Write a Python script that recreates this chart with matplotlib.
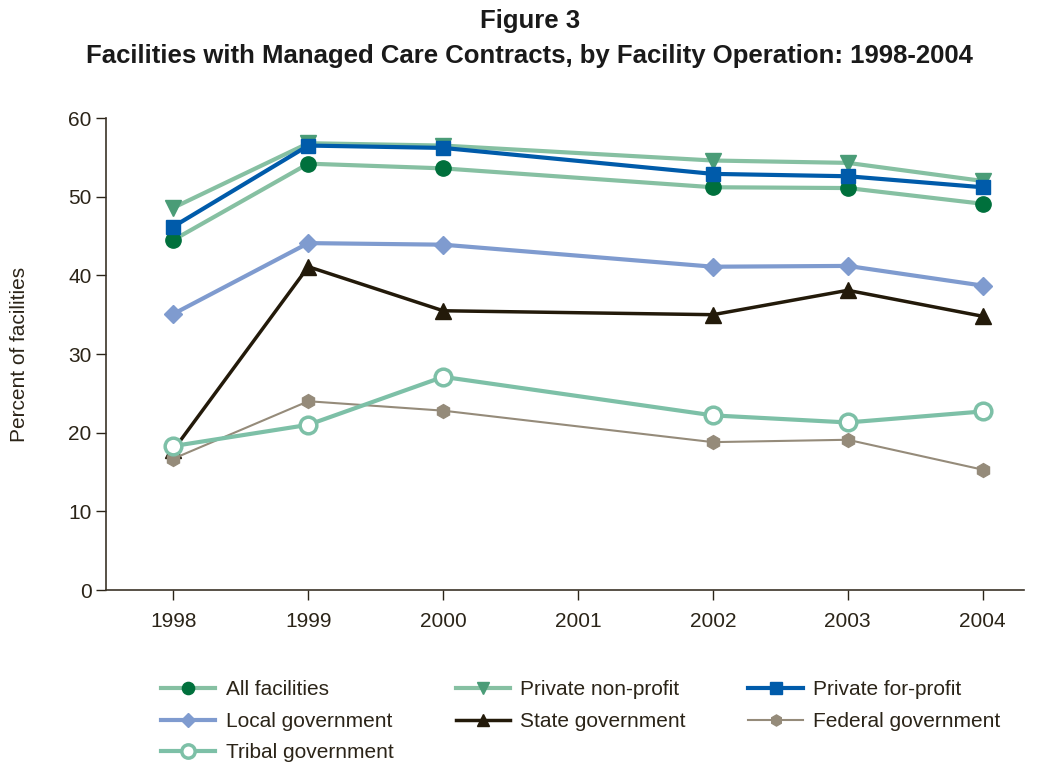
import matplotlib.pyplot as plt

plt.rcParams['font.family'] = ['Liberation Sans', 'DejaVu Sans']

# Data (percent of facilities)
years = [1998, 1999, 2000, 2002, 2003, 2004]
all_fac = [44.5, 54.2, 53.6, 51.2, 51.1, 49.1]
priv_nonprofit = [48.6, 56.8, 56.5, 54.6, 54.3, 52.0]
priv_forprofit = [46.2, 56.5, 56.2, 52.9, 52.6, 51.2]
local_gov = [35.1, 44.1, 43.9, 41.1, 41.2, 38.7]
state_gov = [17.8, 41.1, 35.5, 35.0, 38.1, 34.8]
federal_gov = [16.7, 24.0, 22.8, 18.8, 19.1, 15.3]
tribal_gov = [18.3, 21.0, 27.1, 22.2, 21.3, 22.7]

tick_years = [1998, 1999, 2000, 2001, 2002, 2003, 2004]

fig = plt.figure(figsize=(10.39, 7.62), dpi=100)
ax = fig.add_axes([0.102, 0.2257, 0.884, 0.6194])

l_all, = ax.plot(years, all_fac, color='#86C0A2', lw=3, marker='o', ms=11,
                 mfc='#00703C', mec='#00703C', label='All facilities')
l_pnp, = ax.plot(years, priv_nonprofit, color='#86C0A2', lw=3, marker='v', ms=11,
                 mfc='#4A9C77', mec='#4A9C77', label='Private non-profit')
l_pfp, = ax.plot(years, priv_forprofit, color='#005BAA', lw=3, marker='s', ms=10,
                 mfc='#005BAA', mec='#005BAA', label='Private for-profit')
l_loc, = ax.plot(years, local_gov, color='#7F9BCF', lw=3, marker='D', ms=9,
                 mfc='#7F9BCF', mec='#7F9BCF', label='Local government')
l_sta, = ax.plot(years, state_gov, color='#231A0A', lw=2.5, marker='^', ms=11,
                 mfc='#231A0A', mec='#231A0A', label='State government')
l_fed, = ax.plot(years, federal_gov, color='#958B7A', lw=1.5, marker='h', ms=10,
                 mfc='#958B7A', mec='#958B7A', label='Federal government')
l_tri, = ax.plot(years, tribal_gov, color='#7DC0A7', lw=3, marker='o', ms=12,
                 mfc='white', mec='#7DC0A7', mew=2.5, label='Tribal government')

ax.set_xlim(1997.5, 2004.31)
ax.set_ylim(0, 60)
ax.set_xticks(tick_years)
ax.set_yticks(range(0, 61, 10))
ax.tick_params(labelsize=15, colors='#2B2418', length=7, width=1, direction='out')
ax.tick_params(axis='x', pad=9)
for s in ['top', 'right']:
    ax.spines[s].set_visible(False)
for s in ['left', 'bottom']:
    ax.spines[s].set_color('#3B3328')
    ax.spines[s].set_linewidth(1.2)

ax.set_ylabel('Percent of facilities', fontsize=15, color='#2B2418', labelpad=28)

fig.text(0.51, 0.972, 'Figure 3', ha='center', va='center',
         fontsize=18.5, fontweight='bold', color='#1A1A1A')
fig.text(0.51, 0.926, 'Facilities with Managed Care Contracts, by Facility Operation: 1998-2004',
         ha='center', va='center', fontsize=18.5, fontweight='bold', color='#1A1A1A')

# legend filled column-wise so it reads row by row like the original
handles = [l_all, l_loc, l_tri, l_pnp, l_sta, l_pfp, l_fed]
fig.legend(handles=handles, labels=[h.get_label() for h in handles],
           loc='upper left', bbox_to_anchor=(0.147, 0.118), ncol=3, frameon=False,
           fontsize=15, handlelength=2.6, columnspacing=3.0, labelspacing=0.6,
           handletextpad=0.5, labelcolor='#2B2418', markerscale=0.8,
           borderaxespad=0)

plt.savefig('out.png', dpi=100)
